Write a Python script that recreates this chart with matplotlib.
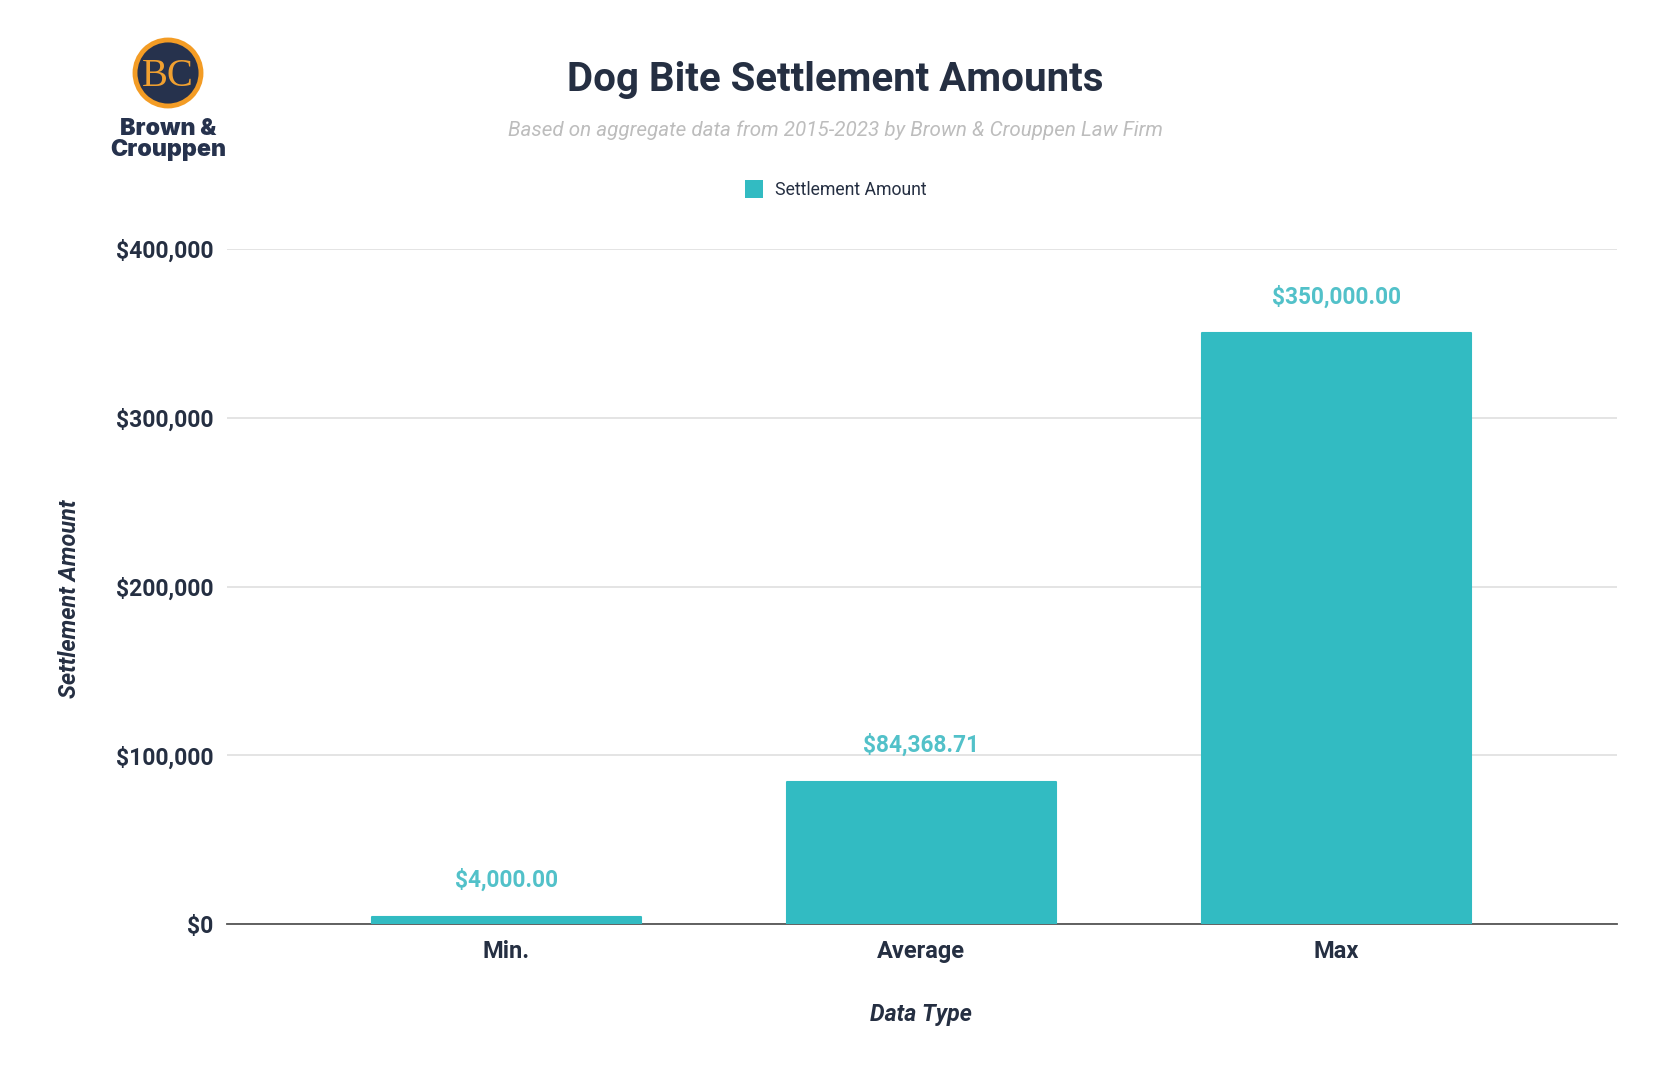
import matplotlib
matplotlib.use("Agg")
import matplotlib.pyplot as plt
from matplotlib.patches import Circle, Rectangle

categories = ["Min.", "Average", "Max"]
settlement = [4000, 84368.71, 350000]
value_labels = ["$4,000.00", "$84,368.71", "$350,000.00"]
yticks = [0, 100000, 200000, 300000, 400000]
ytick_labels = ["$0", "$100,000", "$200,000", "$300,000", "$400,000"]

W, H = 1671, 1080
DARK = "#252f42"
TEAL = "#32bbc2"

plt.rcParams["font.family"] = ["Roboto", "DejaVu Sans"]


def fx(x):
    return x / W


def fy(y):
    return 1 - y / H


def main():
    fig = plt.figure(figsize=(W / 100, H / 100), dpi=100, facecolor="white")
    ax = fig.add_axes([fx(227), fy(924), (1617 - 227) / W, (924 - 249) / H])

    xs = list(range(len(categories)))
    ax.bar(xs, settlement, width=0.648, color=TEAL, edgecolor=TEAL, linewidth=1.5,
           joinstyle="round", zorder=3)
    for x, v, lab in zip(xs, settlement, value_labels):
        ax.annotate(lab, (x, v), xytext=(0, 25), textcoords="offset pixels", ha="center",
                    va="bottom", fontsize=16.3, fontweight="bold", color="#52c1c9", zorder=4)

    ax.set_xlim(-0.672, 2.675)
    ax.set_ylim(0, 400000)
    ax.set_xticks(xs, categories)
    ax.set_yticks(yticks, ytick_labels)
    ax.grid(axis="y", color="#e2e2e2", linewidth=1.3, zorder=1)
    ax.set_axisbelow(True)
    ax.tick_params(length=0, labelcolor=DARK)
    ax.tick_params(axis="y", pad=10, labelsize=16.5)
    ax.tick_params(axis="x", pad=11.5, labelsize=17)
    for lab in ax.get_xticklabels() + ax.get_yticklabels():
        lab.set_fontweight("bold")
    for s in ["top", "left", "right"]:
        ax.spines[s].set_visible(False)
    ax.spines["bottom"].set_color("#555555")
    ax.spines["bottom"].set_linewidth(1.3)
    ax.spines["bottom"].set_zorder(2)

    fig.text(fx(835), fy(80), "Dog Bite Settlement Amounts", ha="center", va="center",
             fontsize=29, fontweight="bold", color=DARK)
    fig.text(fx(835), fy(130), "Based on aggregate data from 2015-2023 by Brown & Crouppen Law Firm",
             ha="center", va="center", fontsize=14.85, style="italic", color="#bdbdbd")

    # legend
    fig.add_artist(Rectangle((fx(745), fy(198)), 18 / W, 18 / H, transform=fig.transFigure,
                             facecolor=TEAL, edgecolor="none"))
    fig.text(fx(775), fy(190), "Settlement Amount", ha="left", va="center", fontsize=12.7, color=DARK)

    fig.text(fx(70), fy(599), "Settlement Amount", rotation=90, ha="center", va="center",
             fontsize=16.8, fontweight="bold", style="italic", color=DARK)
    fig.text(fx(921), fy(1014), "Data Type", ha="center", va="center",
             fontsize=16.7, fontweight="bold", style="italic", color=DARK)

    # logo
    logo = fig.add_axes([0, 0, 1, 1], facecolor="none")
    logo.set_xlim(0, W)
    logo.set_ylim(H, 0)
    logo.axis("off")
    logo.add_patch(Circle((168, 73), 33, facecolor="#26324d", edgecolor="#f39c25", linewidth=3.5))
    logo.text(168, 76, "BC", ha="center", va="center", fontsize=28, color="#f0a030",
              family=["Liberation Serif"])
    logo.text(168, 129, "Brown &", ha="center", va="center", fontsize=16.7, fontweight="black",
              color="#26324d", family=["Inter"])
    logo.text(168, 150, "Crouppen", ha="center", va="center", fontsize=16.7, fontweight="black",
              color="#26324d", family=["Inter"])

    fig.savefig("out.png", dpi=100, facecolor="white")


if __name__ == "__main__":
    main()
